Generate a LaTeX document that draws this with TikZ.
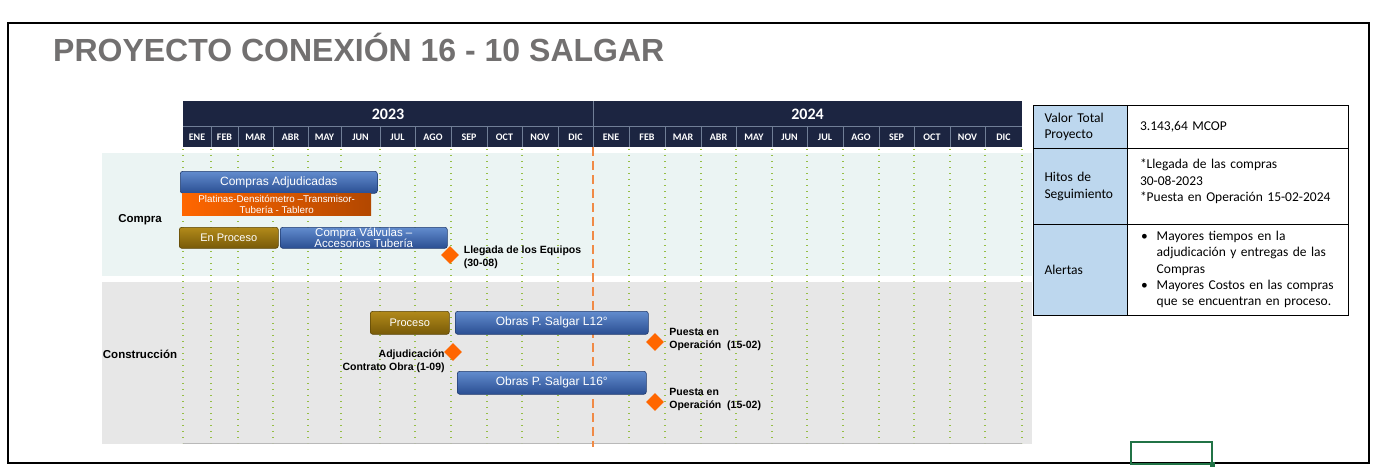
\documentclass[tikz,border=0pt]{standalone}
\usepackage{fontspec}
\setmainfont{Liberation Sans}
\newfontfamily\calib{Carlito}
\usepackage{tikz}
\usetikzlibrary{positioning,shapes.geometric,calc}
\definecolor{navy}{RGB}{28,37,65}
\definecolor{titlegray}{RGB}{114,112,112}
\definecolor{bandA}{RGB}{235,244,243}
\definecolor{bandB}{RGB}{231,231,231}
\definecolor{gridc}{RGB}{150,190,70}
\definecolor{naranja}{RGB}{255,102,0}
\definecolor{dashc}{RGB}{240,138,70}
\definecolor{sepc}{RGB}{112,126,150}
\definecolor{barhi}{RGB}{98,140,206}
\definecolor{barlo}{RGB}{42,78,146}
\definecolor{goldhi}{RGB}{178,138,26}
\definecolor{goldlo}{RGB}{120,90,8}
\definecolor{tabblue}{RGB}{189,215,238}
\definecolor{xlgreen}{RGB}{33,115,70}

\begin{document}
\begin{tikzpicture}[x=1pt, y=-1pt,
  barra/.style={draw=barlo!75!black, line width=0.6pt, rounded corners=2.5pt, top color=barhi, bottom color=barlo, text=white, align=center, inner sep=0pt, anchor=north west, font=\fontsize{12}{12}\selectfont},
  oro/.style={barra, draw=goldlo!75!black, top color=goldhi, bottom color=goldlo, font=\fontsize{11}{11}\selectfont},
  hito/.style={diamond, fill=naranja, minimum width=18pt, minimum height=18pt, inner sep=0pt},
  hlbl/.style={font=\bfseries\fontsize{10.5}{13}\selectfont, inner sep=0pt},
  mes/.style={text=white, font=\calib\bfseries\fontsize{10}{10}\selectfont, inner sep=0pt},
  anio/.style={text=white, font=\calib\bfseries\fontsize{16}{16}\selectfont, inner sep=0pt},
  mesline/.style={draw=sepc, line width=0.8pt},
  punteo/.style={gridc, line width=1.4pt, dash pattern=on 1.4pt off 4.6pt},
  celda/.style={draw, line width=1pt, anchor=north west, inner sep=0pt, align=left, font=\calib\fontsize{13.5}{16.3}\selectfont},
  fila/.style={font=\bfseries\fontsize{11.5}{13}\selectfont, inner sep=0pt}]
  \useasboundingbox (0,0) rectangle (1374,471);
  % frame and title
  \draw[line width=2pt] (8,23) rectangle (1369,463);
  \node[font=\bfseries\fontsize{32}{34}\selectfont, text=titlegray, anchor=base west, inner sep=0pt] (titulo) at (53,61) {PROYECTO CONEXIÓN 16 - 10 SALGAR};
  % bands
  \fill[bandA] (102,153) rectangle (1032,276);
  \fill[bandB] (102,282) rectangle (1032,444);
  \draw[gray!55, line width=1pt] (183,443.5) -- (1022,443.5);
  % header
  \fill[navy] (183,101) rectangle (1022,147);
  \draw[mesline] (183,126.5) -- (1022,126.5);
  \draw[mesline] (593,101) -- (593,147);
  \node[anio] (y23) at (388,114) {2023};
  \node[anio] (y24) at (807.5,114) {2024};
  \foreach \a/\b/\m [count=\i] in {183/211/ENE, 211/238/FEB, 238/273/MAR, 273/308/ABR, 308/341/MAY, 341/380/JUN, 380/415/JUL, 415/451/AGO, 451/487/SEP, 487/522/OCT, 522/558/NOV, 558/593/DIC,
      593/629/ENE, 629/665/FEB, 665/701/MAR, 701/736/ABR, 736/772/MAY, 772/807/JUN, 807/843/JUL, 843/879/AGO, 879/914/SEP, 914/950/OCT, 950/985/NOV, 985/1022/DIC}
    \node[mes] (m\i) at ({(\a+\b)/2},137) {\m};
  \foreach \x in {211,238,273,308,341,380,415,451,487,522,558,629,665,701,736,772,807,843,879,914,950,985}
    \draw[mesline] (\x,127) -- (\x,147);
  % grid
  \foreach \x in {183,211,238,273,308,341,380,415,451,487,522,558,629,665,701,736,772,807,843,879,914,950,985,1022}
    \draw[punteo] (\x,149) -- (\x,443);
  \draw[dashc, line width=2.2pt, dash pattern=on 9pt off 5pt] (593,147) -- (593,447);
  % row labels
  \node[fila] (compra) at (140,220) {Compra};
  \node[fila] (constr) at (140,354) {Construcción};
  % compra
  \node[barra, minimum width=197pt, minimum height=22pt] (adj) at (180,171) {Compras Adjudicadas};
  \node[anchor=north west, inner sep=0pt, minimum width=189pt, minimum height=22pt, left color=naranja, right color=naranja!70!black, text=white, align=center, font=\fontsize{9.8}{11}\selectfont] (plat) at (182,193) {Platinas-Densitómetro –Transmisor-\\Tubería - Tablero};
  \node[oro, minimum width=99pt, minimum height=21pt] (enproc) at (179,227) {En Proceso};
  \node[barra, minimum width=167pt, minimum height=21pt, font=\fontsize{11.5}{11.5}\selectfont] (valv) at (280,227) {Compra Válvulas –\\Accesorios Tubería};
  \node[hito] (d1) at (450,255) {};
  \node[hlbl, align=left, right=4.5pt of d1, yshift=-2pt] (t1) {Llegada de los Equipos\\(30-08)};
  % construccion
  \node[oro, minimum width=79pt, minimum height=23pt] (proc) at (370,311) {Proceso};
  \node[barra, minimum width=193pt, minimum height=23pt] (l12) at (455,311) {Obras P. Salgar L12°};
  \node[barra, minimum width=189pt, minimum height=23pt] (l16) at (457,371) {Obras P. Salgar L16°};
  \node[hito] (d2) at (453,352) {};
  \node[hlbl, align=right, anchor=north east] (t2) at ([xshift=1pt,yshift=2pt]d2.west) {Adjudicación\\Contrato Obra (1-09)};
  \node[hito] (d3) at (655,342) {};
  \node[hlbl, align=left, right=5pt of d3, yshift=3pt] (t3) {Puesta en\\Operación~ (15-02)};
  \node[hito] (d4) at (655,402) {};
  \node[hlbl, align=left, right=5pt of d4, yshift=3pt] (t4) {Puesta en\\Operación~ (15-02)};
  % table
  \node[celda, fill=tabblue, minimum width=94pt, minimum height=43pt, text width=72pt] (c11) at (1033,105) {Valor Total\\Proyecto};
  \node[celda, minimum width=221pt, minimum height=43pt, text width=196pt] (c12) at (1127,105) {3.143,64 MCOP};
  \node[celda, fill=tabblue, minimum width=94pt, minimum height=76pt, text width=72pt] (c21) at (1033,148) {Hitos de\\Seguimiento};
  \node[celda, minimum width=221pt, minimum height=76pt, text width=196pt] (c22) at (1127,148) {*Llegada de las compras\\30-08-2023\\{}*Puesta en Operación 15-02-2024\\[-4pt]\mbox{}};
  \node[celda, fill=tabblue, minimum width=94pt, minimum height=91pt, text width=72pt] (c31) at (1033,224) {Alertas};
  \node[celda, minimum width=221pt, minimum height=91pt, text width=196pt] (c32) at (1127,224)
       {\begin{tabular}{@{\hspace*{1pt}}l@{\hspace{9pt}}l@{}}
        \textbullet & Mayores tiempos en la\\
        & adjudicación y entregas de las\\
        & Compras\\
        \textbullet & Mayores Costos en las compras\\
        & que se encuentran en proceso.
        \end{tabular}};
  % selected cell
  \node[draw=xlgreen, line width=1.5pt, anchor=north west, inner sep=0pt, minimum width=81pt, minimum height=22pt] (sel) at (1130,441) {};
  \node[fill=xlgreen, inner sep=0pt, minimum size=4.5pt] (asa) at (sel.south east) {};
\end{tikzpicture}
\end{document}
